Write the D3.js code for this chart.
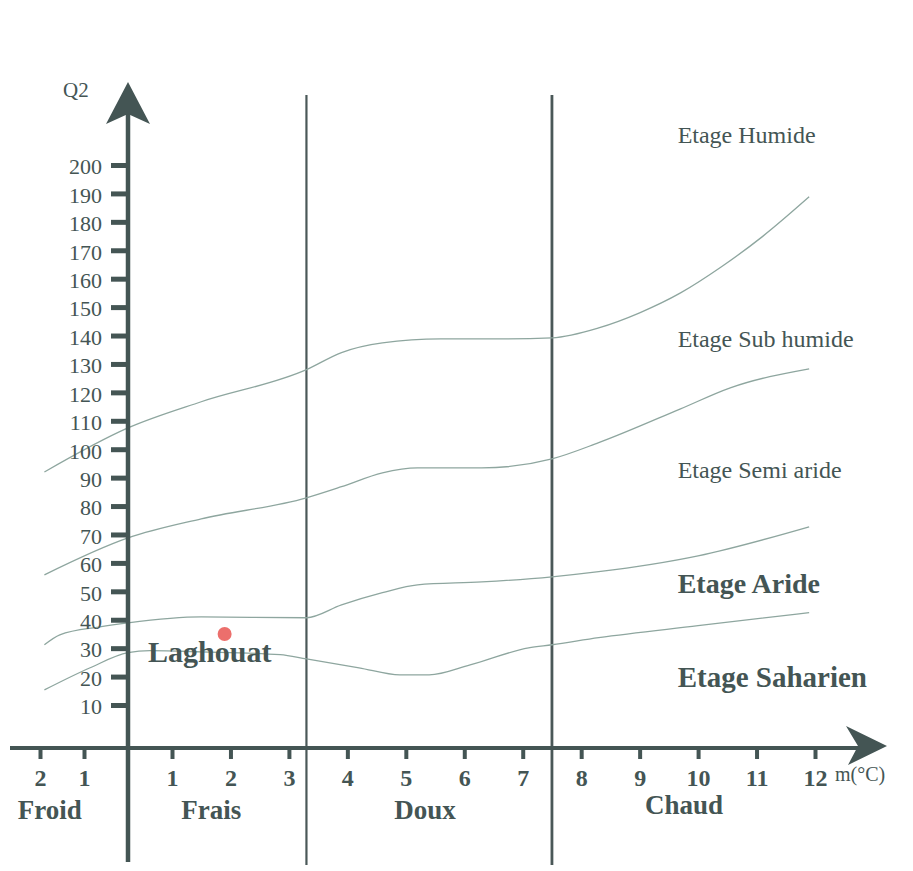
<!DOCTYPE html>
<html>
<head>
<meta charset="utf-8">
<script src="https://cdn.jsdelivr.net/npm/d3@7"></script>
<style>
  body { margin: 0; background: #fff; }
  svg { display: block; font-family: "Liberation Serif", "Times New Roman", serif; }
</style>
</head>
<body>
<div id="chart"></div>
<script>
// Emberger climagram: Q2 vs m (°C)
const qTicks = [10, 20, 30, 40, 50, 60, 70, 80, 90, 100, 110, 120, 130, 140, 150, 160, 170, 180, 190, 200];
const mTicks = [-2, -1, 1, 2, 3, 4, 5, 6, 7, 8, 9, 10, 11, 12];

// zone limits on the m axis
const boundaries = [3.3, 7.5];

// limits between the bioclimatic stages (m, Q2)
const humideM = [-1.9, 0, 1.5, 3.3, 3.9, 4.6, 5.6, 6.6, 7.5, 8.3, 9, 9.7, 10.4, 11.1, 11.9];
const humideQ = [92, 107.5, 116.7, 128, 134, 137.4, 138.8, 138.8, 139.2, 142.7, 148, 155, 164.2, 174.8, 188.8];

const subHumideM = [-1.9, 0, 1.5, 3.3, 3.9, 4.6, 5.2, 6.3, 7.5, 8.3, 9.7, 10.55, 11.9];
const subHumideQ = [55.8, 68.8, 75.5, 82.9, 86.8, 91.7, 93.4, 93.4, 96.6, 102.3, 114.2, 121.6, 128.3];

const semiAridM = [-1.9, -1.55, -0.64, 0, 1.5, 3.3, 3.9, 4.6, 5.2, 6.3, 7.5, 8.3, 10, 11.9];
const semiAridQ = [31.2, 34.7, 37.5, 38.9, 41, 40.7, 45.2, 49.5, 52.3, 53.3, 55.1, 56.9, 62.5, 72.7];

const aridM = [-1.9, -0.86, 0, 0.5, 1.5, 2.85, 3.3, 4.2, 4.9, 5.4, 6.1, 7.1, 7.5, 8.3, 10, 11.9];
const aridQ = [15.3, 23.1, 28.4, 29.1, 28.7, 27.7, 26.2, 23.1, 20.6, 20.6, 24.1, 30.1, 31.2, 33.7, 37.9, 42.5];

const limits = [
  [humideM, humideQ],
  [subHumideM, subHumideQ],
  [semiAridM, semiAridQ],
  [aridM, aridQ]
];

// station
const stationName = "Laghouat";
const stationM = 1.9;
const stationQ = 35;

// stage labels
const stageNames = ["Etage Humide", "Etage Sub humide", "Etage Semi aride", "Etage Aride", "Etage Saharien"];
const stageQ = [207.8, 136, 89.9, 49.5, 16.4];
const stageBold = [false, false, false, true, true];
const stageM = 9.65;

// thermal zones under the axis
const zoneNames = ["Froid", "Frais", "Doux", "Chaud"];
const zoneM = [-1.78, 1.67, 5.33, 9.76];

const width = 913;
const height = 871;
const ink = '#445554';
const curveColor = '#8ea69f';

const svg = d3.select('#chart')
  .append('svg')
  .attr('width', width)
  .attr('height', height)

const x = d3.scaleLinear()
  .domain([-2, 1, 12])
  .range([40, 172, 815])

const y = d3.scaleLinear()
  .domain([10, 200])
  .range([705, 165])

const xAxisY = 748;
const yAxisX = x(0);

// zone dividers
svg.selectAll('line.divider')
  .data(boundaries)
  .enter()
  .append('line')
  .attr('class', 'divider')
  .attr('x1', d => x(d))
  .attr('x2', d => x(d))
  .attr('y1', 95)
  .attr('y2', 865)
  .attr('stroke', '#4a5858')
  .attr('stroke-width', (d, i) => i === 0 ? 2.2 : 2.8)

// stage limits
const line = d3.line()
  .x(d => x(d[0]))
  .y(d => y(d[1]))
  .curve(d3.curveMonotoneX)

svg.selectAll('path.limit')
  .data(limits.map(l => l[0].map((m, i) => [m, l[1][i]])))
  .enter()
  .append('path')
  .attr('class', 'limit')
  .attr('d', line)
  .attr('fill', 'none')
  .attr('stroke', curveColor)
  .attr('stroke-width', 1.3)

// y axis
const yAxis = d3.axisLeft(y)
  .tickValues(qTicks)
  .tickSize(17)
  .tickPadding(9)

const gy = svg.append('g')
  .attr('transform', `translate(${yAxisX}, 0)`)
  .call(yAxis)

gy.select('.domain').remove();
gy.selectAll('.tick line')
  .attr('stroke', ink)
  .attr('stroke-width', 5)
gy.selectAll('.tick text')
  .attr('fill', ink)
  .style('font-size', '22px')
  .style('font-family', '"Liberation Serif", serif')
  .attr('dy', '0.4em')

svg.append('line')
  .attr('x1', yAxisX).attr('x2', yAxisX)
  .attr('y1', 110).attr('y2', 862)
  .attr('stroke', ink)
  .attr('stroke-width', 4.5)

svg.append('path')
  .attr('d', `M${yAxisX},82 L${yAxisX + 22},124 L${yAxisX},114 L${yAxisX - 22},124 Z`)
  .attr('fill', ink)

// x axis
const xAxis = d3.axisBottom(x)
  .tickValues(mTicks)
  .tickFormat(d => Math.abs(d))
  .tickSize(11)
  .tickPadding(10)

const gx = svg.append('g')
  .attr('transform', `translate(0, ${xAxisY})`)
  .call(xAxis)

gx.select('.domain').remove();
gx.selectAll('.tick line')
  .attr('stroke', ink)
  .attr('stroke-width', 4)
gx.selectAll('.tick text')
  .attr('fill', ink)
  .style('font-size', '24px')
  .style('font-weight', 'bold')
  .style('font-family', '"Liberation Serif", serif')

svg.append('line')
  .attr('x1', 10).attr('x2', 860)
  .attr('y1', xAxisY).attr('y2', xAxisY)
  .attr('stroke', ink)
  .attr('stroke-width', 4)

svg.append('path')
  .attr('d', `M887,${xAxisY - 2} L846,${xAxisY - 22} L858,${xAxisY - 2} L848,${xAxisY + 17} Z`)
  .attr('fill', ink)

// axis titles
svg.append('text')
  .attr('x', 63)
  .attr('y', 97)
  .attr('fill', ink)
  .style('font-size', '21px')
  .text('Q2')

svg.append('text')
  .attr('x', 835)
  .attr('y', 781)
  .attr('fill', ink)
  .style('font-size', '20px')
  .text('m(°C)')

// zone names
svg.selectAll('text.zone')
  .data(zoneNames)
  .enter()
  .append('text')
  .attr('class', 'zone')
  .attr('x', (d, i) => x(zoneM[i]))
  .attr('y', (d, i) => i === 3 ? 814 : 819)
  .attr('text-anchor', 'middle')
  .attr('fill', ink)
  .style('font-size', '27px')
  .style('font-weight', 'bold')
  .text(d => d)

// stage names
svg.selectAll('text.stage')
  .data(stageNames)
  .enter()
  .append('text')
  .attr('class', 'stage')
  .attr('x', x(stageM))
  .attr('y', (d, i) => y(stageQ[i]))
  .attr('fill', ink)
  .style('font-size', (d, i) => stageBold[i] ? (i === 3 ? '28px' : '29px') : '24px')
  .style('font-weight', (d, i) => stageBold[i] ? 'bold' : 'normal')
  .text(d => d)

// station
svg.append('circle')
  .attr('cx', x(stationM))
  .attr('cy', y(stationQ))
  .attr('r', 7)
  .attr('fill', '#ec6f6c')

svg.append('text')
  .attr('x', 148)
  .attr('y', 662)
  .attr('fill', ink)
  .style('font-size', '30px')
  .style('font-weight', 'bold')
  .text(stationName)
</script>
</body>
</html>
